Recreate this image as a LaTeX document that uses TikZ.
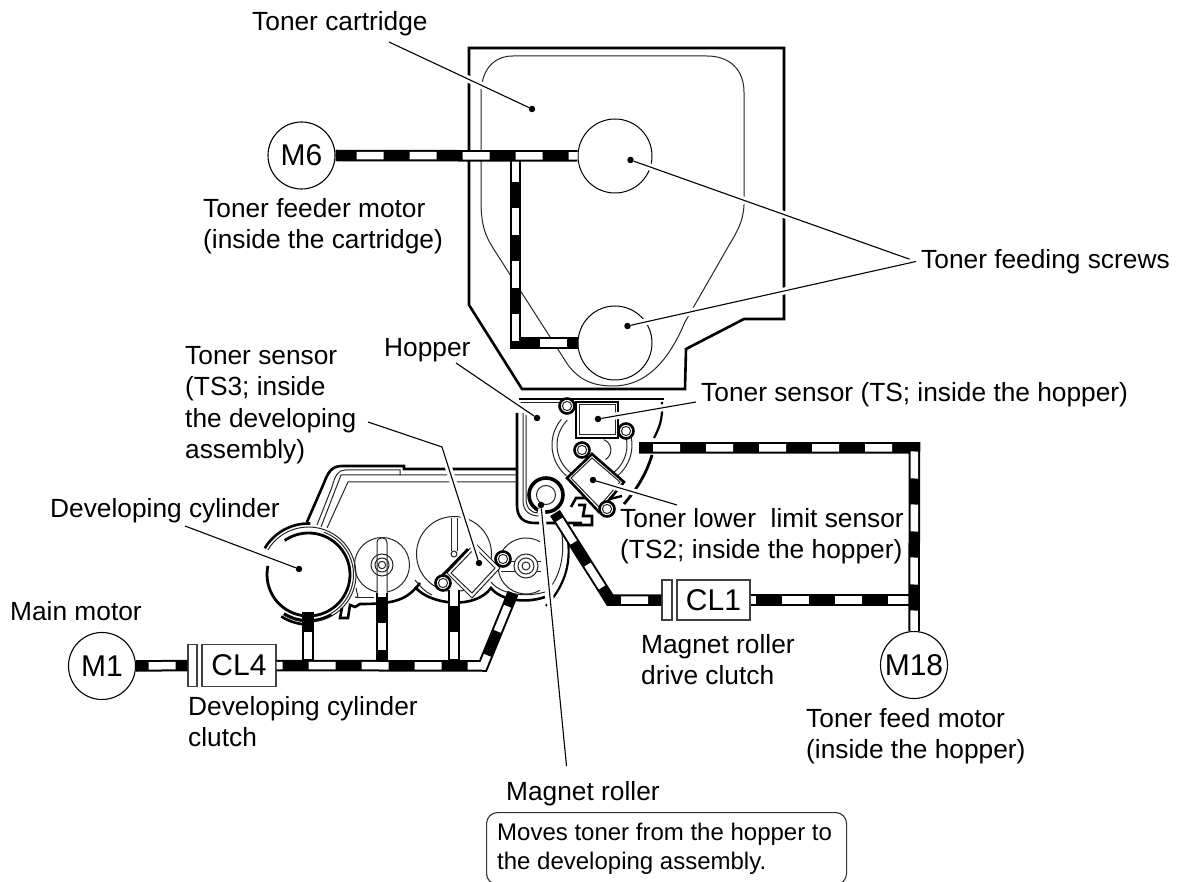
\documentclass[tikz,border=0pt]{standalone}
\usepackage{fontspec}
\setmainfont{Liberation Sans}
\tikzset{
  lab/.style={font=\fontsize{26.3}{31.5}\selectfont,inner sep=0pt,anchor=base west,align=left},
  labm/.style={font=\fontsize{26.3}{31.5}\selectfont,inner sep=0pt,anchor=north west,align=left},
  motor/.style={circle,draw=black,line width=1.1pt,fill=white,minimum size=67pt,inner sep=0pt,font=\fontsize{30}{30}\selectfont},
  clutch/.style={rectangle,draw=black!75,line width=1.1pt,fill=white,minimum height=42pt,inner sep=0pt,font=\fontsize{30}{30}\selectfont},
  screwnode/.style={circle,draw=black,line width=1pt,minimum size=74pt,inner sep=0pt},
  thickl/.style={line width=2.6pt,line join=miter},
  thinl/.style={line width=1pt,black!85},
  leader/.style={line width=1.1pt,preaction={draw,white,line width=7pt}},
  leaddot/.style={circle,fill=black,inner sep=0pt,minimum size=6.5pt},
  beltouter/.style={line width=11.5pt,black,line join=miter},
  beltinner/.style={line width=7.5pt,white,line join=miter,dash pattern=on 27pt off 26pt},
}
\newcommand{\beltrun}[2]{\draw[beltouter] #2; \draw[beltinner,dash phase=#1] #2;}
\begin{document}
\begin{tikzpicture}[x=1pt,y=-1pt]
  \useasboundingbox (0,0) rectangle (1184,882);
  % cartridge
  \draw[thickl] (469,48) -- (784,48) -- (784,319) -- (744,319) -- (686,349) -- (685,389) -- (522,389) -- (469,305) -- cycle;
  \draw[thinl] (481,92) .. controls (482,68) and (495,56) .. (513,56) -- (707,56)
    .. controls (730,56) and (744,70) .. (744,92) -- (744,205)
    .. controls (743,222) and (738,230) .. (728,247) -- (685,322)
    .. controls (675,345) and (655,386) .. (613,386)
    .. controls (590,386) and (578,378) .. (568,365) -- (493,248)
    .. controls (485,235) and (481,225) .. (481,200) -- cycle;
  \node[screwnode] (screwu) at (615,156) {};
  \node[screwnode] (screwl) at (615,343) {};
  % hopper
  \draw[thickl] (517,413) -- (517,505) .. controls (517,518) and (524,523) .. (535,523) -- (582,523);
  \draw[thinl] (523,413) -- (523,500) .. controls (523,511) and (529,516) .. (540,516);
  \draw[thinl] (526,413) -- (526,498) .. controls (526,508) and (531,513) .. (538,513);
  \draw[line width=2.8pt] (519,399) -- (664,399);
  \draw[thinl] (519,403) -- (576,403);
  \draw[thinl] (592,445) ++(220:40) arc[start angle=220,end angle=130,radius=40];
  \draw[thinl] (592,445) ++(225:35) arc[start angle=225,end angle=125,radius=35];
  \draw[thinl] (592,445) ++(-25:40) arc[start angle=-25,end angle=65,radius=40];
  \draw[thinl] (592,445) ++(-25:35) arc[start angle=-25,end angle=60,radius=35];
  \draw[thinl] (600,450) ++(-70:11) arc[start angle=-70,end angle=60,radius=11];
  \draw[line width=2.2pt] (662,402) .. controls (663,420) and (659,428) .. (654,438);
  \draw[line width=2.8pt] (652,455) .. controls (646,475) and (636,490) .. (624,504);
  \draw[thickl] (571,507) -- (576,498) -- (601,498);
  \draw[thickl] (578,505) -- (585,505) -- (583,516) -- (592,516) -- (592,525) -- (573,525);
  \draw[line width=2.4pt] (610,499) -- (622,496);
  \draw[line width=2.4pt] (612,494) -- (606,502);
  \draw[thinl] (561,528) .. controls (565,550) and (562,570) .. (552,585);
  \draw[line width=2.2pt] (567,535) .. controls (572,560) and (566,585) .. (546,606);
  % developing assembly
  \draw[thickl] (307,522) -- (324,483) .. controls (328,472) and (332,466) .. (342,466) -- (404,466) -- (404,469) -- (517,469);
  \draw[thinl] (317,525) -- (332,487) .. controls (335,476) and (338,470) .. (345,470) -- (400,470) -- (400,475) -- (517,475);
  \draw[thinl] (321,527) -- (341,475) -- (400,475);
  \draw[thinl] (327,528) -- (348,482) -- (517,482);
  % developing cylinder
  \coordinate (cyl) at (308.5,574.5);
  \draw[line width=2.8pt] (cyl) ++(235:41.5) arc[start angle=235,end angle=552,radius=41.5];
  \draw[line width=2.6pt] (cyl) ++(211:51) arc[start angle=211,end angle=272,radius=51];
  \draw[thinl] (cyl) ++(211:47.5) arc[start angle=211,end angle=482,radius=47.5];
  \draw[thinl] (cyl) ++(290:45) arc[start angle=290,end angle=420,radius=45];
  \draw[line width=2.6pt] (cyl) ++(60:46) arc[start angle=60,end angle=122,radius=46];
  \draw[line width=2.6pt] (cyl) ++(90:50) arc[start angle=90,end angle=123,radius=50];
  \draw[thickl] (420,583) .. controls (407,600) and (395,604) .. (360,604) -- (355,607) -- (350,605) -- (348,618) -- (340,618) -- (342,608);
  \draw[thinl] (355,597) -- (358,597) -- (356,588);
  \draw[thinl] (355,597) -- (374,597);
  % gears
  \coordinate (gearb) at (382,565);
  \coordinate (gearc) at (454,554);
  \coordinate (geard) at (526,566);
  \draw[thinl] (gearb) circle (27.5);
  \draw[thinl,fill=white] (377,594) -- (377,543) .. controls (377,536) and (387,536) .. (387,543) -- (387,594);
  \foreach \r in {11,7,3.7} \draw[thinl] (gearb) circle (\r);
  \draw[thinl] (gearc) circle (37.5);
  \draw[thinl] (451,518) -- (451,551);
  \draw[thinl] (457,518) -- (457,551);
  \draw[thinl,fill=white] (gearc) circle (3);
  \draw[thinl] (geard) ++(60:28) arc[start angle=60,end angle=300,radius=28];
  \draw[thinl] (501,561) -- (541,561);
  \draw[thinl] (501,571) -- (541,571);
  \foreach \r in {12,8,4} \draw[thinl,fill=white] (geard) circle (\r);
  \draw[line width=2.6pt] (415,587) .. controls (430,605) and (475,610) .. (491,588)
    .. controls (500,600) and (525,604) .. (545,597);
  \draw[thinl] (491,582) .. controls (500,594) and (525,598) .. (545,592);
  \draw[thinl] (415,580) .. controls (420,586) and (425,592) .. (432,595);
  % sensors
  \draw[thickl,fill=white] (576,402) rectangle (618,438);
  \draw[thinl] (579,405) rectangle (615,435);
  \draw[thickl,fill=white] (567,478) -- (592,454) -- (624,482) -- (599,512) -- cycle;
  \draw[thinl] (571,478) -- (592,458) -- (620,482) -- (599,507) -- cycle;
  \draw[thinl,fill=white] (447,573) -- (475,543) -- (500,568) -- (472,598) -- cycle;
  \draw[thinl] (451,573) -- (475,548) -- (495,568) -- (472,593) -- cycle;
  \draw[thickl] (438,580) -- (468,549);
  \foreach \x/\y in {567/406,626/431,582/450,607/509,443/583,503/559} {
    \draw[thickl,fill=white] (\x,\y) circle (7.5);
    \draw[thinl] (\x,\y) circle (4.6);
  }
  % magnet roller
  \coordinate (magr) at (546,495);
  \draw[line width=3.6pt,fill=white] (magr) circle (17);
  \draw[thinl] (magr) circle (9.5);
  % leaders
  \coordinate (fork) at (916,261.5);
  \node[leaddot] (dcart) at (532,109) {};
  \node[leaddot] (dscrewu) at (630.5,160) {};
  \node[leaddot] (dscrewl) at (627.5,326) {};
  \node[leaddot] (dhop) at (537,418) {};
  \node[leaddot] (dts) at (598,419) {};
  \node[leaddot] (dtstwo) at (593,480) {};
  \node[leaddot] (dtsthree) at (479,563) {};
  \node[leaddot] (dcyl) at (299,569) {};
  \node[leaddot] (dmag) at (541,505) {};
  \coordinate (lcart) at (389,42);
  \coordinate (lhop) at (456,363);
  \coordinate (lts) at (696,402);
  \coordinate (ltstwo) at (677,505);
  \coordinate (ltsthree) at (368,422);
  \coordinate (kink) at (442,447);
  \coordinate (lcyl) at (185,526);
  \coordinate (lmag) at (566.5,766);
  \draw[leader] (lcart) -- (dcart);
  \draw[leader] (fork) -- (dscrewu);
  \draw[leader] (fork) -- (dscrewl);
  \draw[leader] (lhop) -- (dhop);
  \draw[leader] (lts) -- (dts);
  \draw[leader] (ltstwo) -- (dtstwo);
  \draw[leader] (ltsthree) -- (kink) -- (dtsthree);
  \draw[leader] (lcyl) -- (dcyl);
  \draw[leader] (lmag) -- (dmag);
  % belts
  \node[motor] (mfeed) at (301.5,155.5) {M6};
  \node[motor] (mmain) at (102,666) {M1};
  \node[motor] (mhop) at (914,665) {M18};
  \node[clutch,minimum width=9pt] (cdplate) at (192.5,665.5) {};
  \node[clutch,minimum width=74pt] (cdev) at (239,665.5) {CL4};
  \node[clutch,minimum width=10pt,minimum height=40pt] (cmplate) at (667,600) {};
  \node[clutch,minimum width=73pt,minimum height=40pt] (cmag) at (713.5,600) {CL1};
  \coordinate (jfeed) at (515.5,155.5);
  \coordinate (cfeed) at (515.5,343);
  \coordinate (jcorn) at (914.5,448);
  \coordinate (jhopin) at (639,448);
  \coordinate (jmag) at (555,513);
  \coordinate (cmagr) at (610,600);
  \coordinate (jright) at (914.5,600);
  \coordinate (jdev) at (483,666);
  \coordinate (jgear) at (513,593);
  \beltrun{0}{(jfeed) -- (cfeed) -- (screwl.west)}
  \beltrun{32}{(mfeed.east) -- (screwu.west)}
  \beltrun{22}{(cmag.east) -- (jright)}
  \beltrun{39}{(jhopin) -- (jcorn) -- (mhop.north)}
  \beltrun{45}{(jmag) -- (cmagr) -- (cmplate.west)}
  \beltrun{40.5}{(mmain.east) -- (cdplate.west)}
  \coordinate (bcyl) at (308,612);
  \coordinate (bcylb) at (308,666);
  \coordinate (bgearb) at (382,593);
  \coordinate (bgearbb) at (382,666);
  \coordinate (bgearc) at (454,590);
  \coordinate (bgearcb) at (454,666);
  \beltrun{33}{(bcyl) -- (bcylb)}
  \beltrun{23}{(bgearb) -- (bgearbb)}
  \beltrun{11}{(bgearc) -- (bgearcb)}
  \beltrun{21}{(cdev.east) -- (jdev) -- (jgear)}
  % labels
  \node[lab] (tcart) at (252,31) {Toner cartridge};
  \node[labm] (tfeed) at (203,198) {Toner feeder motor\\(inside the cartridge)};
  \node[lab] (tscrew) at (921,269) {Toner feeding screws};
  \node[lab] (thop) at (384,357) {Hopper};
  \node[labm] (tsthree) at (185,346) {Toner sensor\\(TS3; inside\\the developing\\assembly)};
  \node[lab] (tstext) at (701,402) {Toner sensor (TS; inside the hopper)};
  \node[labm] (tstwo) at (620,508) {Toner lower\ \ limit sensor\\(TS2; inside the hopper)};
  \node[lab] (tdev) at (50,517) {Developing cylinder};
  \node[lab] (tmain) at (10,620) {Main motor};
  \node[labm] (tclfour) at (188,696) {Developing cylinder\\clutch};
  \node[labm] (tclone) at (641,634) {Magnet roller\\drive clutch};
  \node[labm] (tmot) at (806,708) {Toner feed motor\\(inside the hopper)};
  \node[lab] (tmag) at (506,800) {Magnet roller};
  \node[draw=black!80,line width=1.1pt,rounded corners=11pt,anchor=north west,minimum width=360pt,minimum height=72pt,inner sep=0pt] (notebox) at (486,812) {};
  \node[font=\fontsize{24}{28.5}\selectfont,inner sep=0pt,anchor=north west,align=left] (tnote) at (497,823) {Moves toner from the hopper to\\the developing assembly.};
\end{tikzpicture}
\end{document}
